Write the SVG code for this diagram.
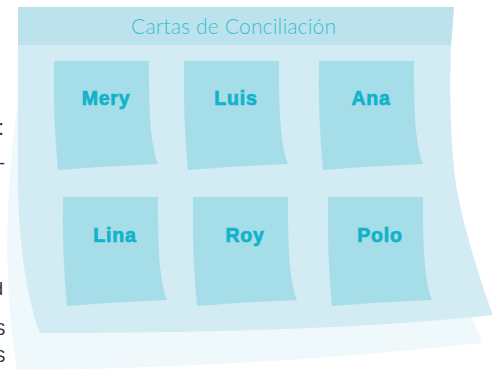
<svg xmlns="http://www.w3.org/2000/svg" xmlns:xlink="http://www.w3.org/1999/xlink" width="495" height="372" viewBox="0 0 495 372">
  <style>
    .back { fill: #eff8fb; }
    .sheet { fill: #d3ebf2; }
    .header { fill: #bce3ec; }
    .card { fill: #a5dde8; }
    .title { font-family: "Lato", "Open Sans", "Liberation Sans", sans-serif; font-weight: 300; font-size: 21px; fill: #38bed4; }
    .label { font-family: "Liberation Sans", Arial, sans-serif; font-weight: bold; font-size: 19.5px; letter-spacing: 0.8px; fill: #12b3ca; stroke: #12b3ca; stroke-width: 0.7px; text-anchor: middle; }
    .frag { font-family: "Liberation Sans", Arial, sans-serif; fill: #333333; }
  </style>
  <defs>
    <path id="cardShape" d="M0,0 H95 C95,50 96,82 104,103 Q55,105 4,109 Q-1,60 0,0 Z"/>
  </defs>

  <!-- cropped text fragments at left edge, as in the reference -->
  <text class="frag" x="-2" y="135" font-size="22">:</text>
  <text class="frag" x="-1" y="169" font-size="18">-</text>
  <text class="frag" x="-7" y="295" font-size="18">d</text>
  <text class="frag" x="-6" y="335" font-size="17">S</text>
  <text class="frag" x="-6" y="362" font-size="17">S</text>

  <!-- sheets -->
  <path class="back" d="M18,100 Q-3,250 17,370 Q250,368 482,343 L471,315 L452,200 Z"/>
  <path class="sheet" d="M18,7 H454 L451,45 C449,110 452,160 457,190 C462,220 478,275 493,315 Q330,333 40,333 C27,300 18,240 18,180 Z"/>
  <path class="header" d="M18,7 H454 L451,45 H18 Z"/>
  <text class="title" x="233.5" y="34" text-anchor="middle" textLength="205" lengthAdjust="spacing">Cartas de Conciliación</text>

  <g id="mery">
    <use xlink:href="#cardShape" class="card" x="54" y="61"/>
    <text class="label" x="106" y="105">Mery</text>
  </g>
  <g id="luis">
    <use xlink:href="#cardShape" class="card" x="184" y="61"/>
    <text class="label" x="236" y="105">Luis</text>
  </g>
  <g id="ana">
    <use xlink:href="#cardShape" class="card" x="319" y="61"/>
    <text class="label" x="371" y="105">Ana</text>
  </g>
  <g id="lina">
    <use xlink:href="#cardShape" class="card" x="63" y="197"/>
    <text class="label" x="115" y="242">Lina</text>
  </g>
  <g id="roy">
    <use xlink:href="#cardShape" class="card" x="193" y="197"/>
    <text class="label" x="245" y="242">Roy</text>
  </g>
  <g id="polo">
    <use xlink:href="#cardShape" class="card" x="328" y="197"/>
    <text class="label" x="380" y="242">Polo</text>
  </g>

  <g id="connectors"></g>
</svg>
